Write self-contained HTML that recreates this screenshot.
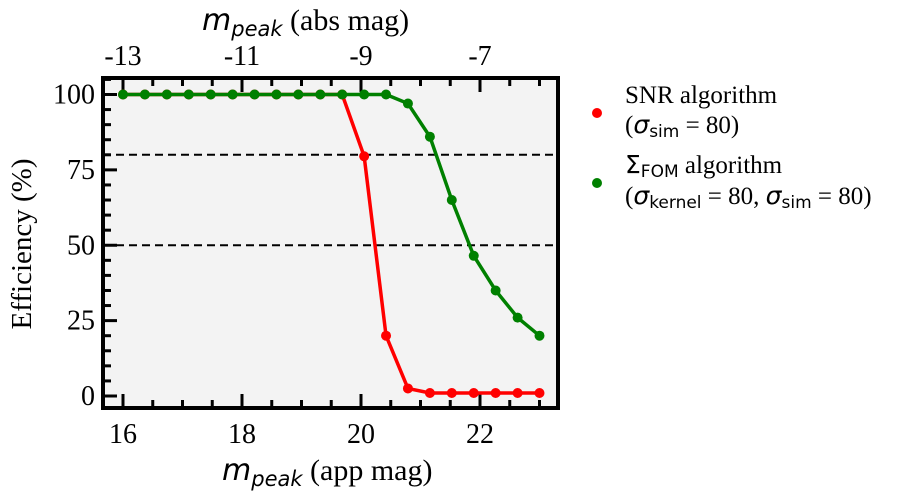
<!DOCTYPE html>
<html><head><meta charset="utf-8"><style>
body{margin:0;background:#fff}
svg{display:block;font-family:"Liberation Serif",serif}
.s{font-family:"DejaVu Sans",sans-serif;font-style:oblique}
</style></head><body>
<svg id="chart" width="900" height="500">
<rect x="103" y="78" width="455" height="330" fill="#f3f3f3"/>
<g id="grid"></g>
<g id="ticks"></g>
<g id="series"></g>
<rect x="103" y="78" width="455" height="330" fill="none" stroke="#000" stroke-width="4"/>
<text x="222" y="480" font-size="30"><tspan class="s">m</tspan><tspan class="s" font-size="21" dy="6">peak</tspan><tspan dy="-6"> (app mag)</tspan></text>
<text x="202" y="30" font-size="30"><tspan class="s">m</tspan><tspan class="s" font-size="21" dy="6">peak</tspan><tspan dy="-6"> (abs mag)</tspan></text>
<text transform="translate(31,244) rotate(-90)" text-anchor="middle" font-size="29">Efficiency (%)</text>
<g>
<circle cx="597" cy="113" r="5" fill="#ff0000"/>
<text x="625" y="103" font-size="25">SNR algorithm</text>
<text x="625" y="133" font-size="25">(<tspan class="s">σ</tspan><tspan font-family="DejaVu Sans" font-size="17" dy="4">sim</tspan><tspan dy="-4"> = 80)</tspan></text>
<circle cx="597" cy="183" r="5" fill="#008000"/>
<text x="625" y="173" font-size="25"><tspan font-family="DejaVu Sans">Σ</tspan><tspan font-family="DejaVu Sans" font-size="17" dy="4">FOM</tspan><tspan dy="-4"> algorithm</tspan></text>
<text x="625" y="204" font-size="25">(<tspan class="s">σ</tspan><tspan font-family="DejaVu Sans" font-size="17" dy="4">kernel</tspan><tspan dy="-4"> = 80, </tspan><tspan class="s">σ</tspan><tspan font-family="DejaVu Sans" font-size="17" dy="4">sim</tspan><tspan dy="-4"> = 80)</tspan></text>
</g>
</svg>
<script>
const xVals=[16,16.368,16.737,17.105,17.474,17.842,18.211,18.579,18.947,19.316,19.684,20.053,20.421,20.789,21.158,21.526,21.895,22.263,22.632,23];
const snrVals=[100,100,100,100,100,100,100,100,100,100,100,79.5,20,2.5,1,1,1,1,1,1];
const fomVals=[100,100,100,100,100,100,100,100,100,100,100,100,100,97,86,65,46.5,35,26,20];
const xTicks=[16,18,20,22];
const yTicks=[0,25,50,75,100];
const topTicks=[-13,-11,-9,-7];
const distMod=29;
const refLines=[80,50];
const NS='http://www.w3.org/2000/svg';
const X=v=>123+(v-16)*59.5;
const Y=v=>396-v*3.015;
function mk(t,a,p){const e=document.createElementNS(NS,t);for(const k in a)e.setAttribute(k,a[k]);p.appendChild(e);return e;}
const grid=document.getElementById('grid'),tk=document.getElementById('ticks'),se=document.getElementById('series');
refLines.forEach(v=>{const l=mk('line',{x1:103,x2:558,y1:Y(v),y2:Y(v),stroke:'#000','stroke-width':2,'stroke-dasharray':'8,5'},grid);

});
for(let v=16;v<=23.01;v+=0.5){const maj=xTicks.includes(v);const L=maj?14:8;
mk('line',{x1:X(v),x2:X(v),y1:408,y2:408-L,stroke:'#000','stroke-width':3},tk);}
for(let a=-13;a<=-5.9;a+=0.5){const v=a+distMod;if(X(v)>556)break;const L=topTicks.includes(a)?14:8;
mk('line',{x1:X(v),x2:X(v),y1:78,y2:78+L,stroke:'#000','stroke-width':3},tk);}
for(let v=0;v<=105;v+=5){const L=yTicks.includes(v)?14:8;
mk('line',{x1:103,x2:103+L,y1:Y(v),y2:Y(v),stroke:'#000','stroke-width':3},tk);}
xTicks.forEach(v=>{const t=mk('text',{x:X(v),y:443,'text-anchor':'middle','font-size':28},tk);t.textContent=v;

});
topTicks.forEach(a=>{const t=mk('text',{x:X(a+distMod),y:65,'text-anchor':'middle','font-size':28},tk);t.textContent=a;

});
yTicks.forEach(v=>{const t=mk('text',{x:95,y:Y(v)+9,'text-anchor':'end','font-size':28},tk);t.textContent=v;

});
function series(vals,col,name){
const p=mk('polyline',{points:vals.map((v,i)=>X(xVals[i])+','+Y(v)).join(' '),fill:'none',stroke:col,'stroke-width':3.5},se);


vals.forEach((v,i)=>{const c=mk('circle',{cx:X(xVals[i]),cy:Y(v),r:5,fill:col},se);

});}
series(snrVals,'#ff0000','snr');
series(fomVals,'#008000','fom');
</script>
</body></html>
